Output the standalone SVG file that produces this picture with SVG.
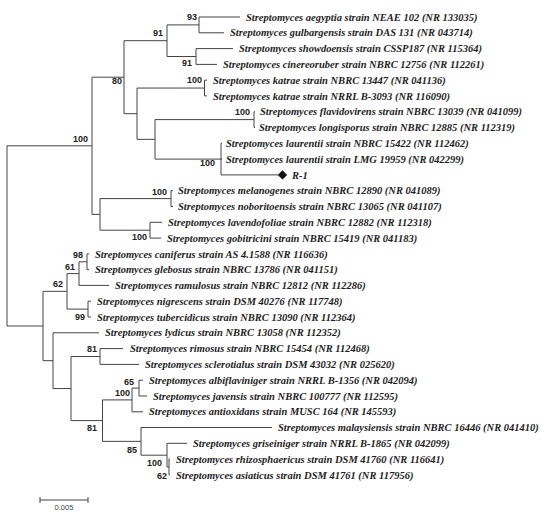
<svg xmlns="http://www.w3.org/2000/svg" width="550" height="514" viewBox="0 0 550 514">
<style>
.leaf{font-family:"Liberation Serif","Times New Roman",serif;font-weight:bold;font-style:italic;font-size:10.5px;fill:#1e1e1e}
.bs{font-family:"Liberation Sans",Arial,sans-serif;font-weight:bold;font-size:9px;fill:#222;text-anchor:end}
.br{fill:none;stroke:#444;stroke-width:1}
.sc{font-family:"Liberation Sans",Arial,sans-serif;font-size:7.5px;fill:#444;text-anchor:middle}
</style>
<rect width="550" height="514" fill="#fff"/>
<g id="connectors" class="br">
<path d="M7,145.8V326M7,145.8H92M7,326H43"/>
<path d="M92,77.2V214.4M92,77.2H124M92,214.4H100"/>
<path d="M124,40.7V113.7M124,40.7H167M124,113.7H137"/>
<path d="M167,24.9V56.5M167,24.9H199M167,56.5H196"/>
<path d="M199,17V32.8M199,17H240M199,32.8H224"/>
<path d="M196,48.6V64.4M196,48.6H233M196,64.4H217"/>
<path d="M137,88.05V139.35M137,88.05H204.5M137,139.35H155"/>
<path d="M204.5,80.2V95.9M204.5,80.2H207M204.5,95.9H207"/>
<path d="M155,119.6V159.1M155,119.6H254M155,159.1H221"/>
<path d="M254,111.7V127.5M254,111.7H255M254,127.5H255"/>
<path d="M221,143.3V174.9M221,143.3H222M221,159.1H222M221,174.9H278"/>
<path d="M100,198.6V230.2M100,198.6H171M100,230.2H150"/>
<path d="M171,190.7V206.5M171,190.7H173M171,206.5H173"/>
<path d="M150,222.3V238.1M150,222.3H162M150,238.1H161"/>
<path d="M43,291.35V360.7M43,291.35H67M43,360.7H53"/>
<path d="M67,273.6V309.1M67,273.6H79M67,309.1H88"/>
<path d="M79,261.8V285.4M79,261.8H87M79,285.4H109"/>
<path d="M87,253.9V269.6M87,253.9H89M87,269.6H89"/>
<path d="M88,301.2V317M88,301.2H91M88,317H91"/>
<path d="M53,332.8V388.55M53,332.8H99M53,388.55H71"/>
<path d="M71,356.5V420.6M71,356.5H100M71,420.6H102.5"/>
<path d="M100,348.6V364.4M100,348.6H123M100,364.4H139"/>
<path d="M102.5,399.9V441.35M102.5,399.9H132M102.5,441.35H141"/>
<path d="M132,388.1V411.8M132,388.1H139M132,411.8H143"/>
<path d="M139,380.2V396M139,380.2H143M139,396H147"/>
<path d="M141,427.5V455.2M141,427.5H272M141,455.2H167"/>
<path d="M167,443.3V467M167,443.3H187M167,467H169"/>
<path d="M169,459.1V474.9M169,459.1H170M169,474.9H170"/>
</g>
<g id="bootstrap">
<g id="n93"><text class="bs" x="197" y="20.3">93</text></g>
<g id="n91a"><text class="bs" x="163" y="36.3">91</text></g>
<g id="n91b"><text class="bs" x="192" y="66.3">91</text></g>
<g id="n80"><text class="bs" x="122" y="83.5">80</text></g>
<g id="nkatrae"><text class="bs" x="202" y="83.3">100</text></g>
<g id="nflav"><text class="bs" x="250" y="115.3">100</text></g>
<g id="nlaur"><text class="bs" x="215" y="166.3">100</text></g>
<g id="nroot100"><text class="bs" x="88" y="142.3">100</text></g>
<g id="nmel"><text class="bs" x="167" y="195.3">100</text></g>
<g id="nlav"><text class="bs" x="147" y="240.3">100</text></g>
<g id="n98"><text class="bs" x="83" y="258.3">98</text></g>
<g id="n61"><text class="bs" x="75" y="270.3">61</text></g>
<g id="n62a"><text class="bs" x="63" y="287.3">62</text></g>
<g id="n99"><text class="bs" x="85" y="320.3">99</text></g>
<g id="n81a"><text class="bs" x="97" y="352.3">81</text></g>
<g id="n81b"><text class="bs" x="97" y="431.3">81</text></g>
<g id="n65"><text class="bs" x="134" y="385.3">65</text></g>
<g id="n100c"><text class="bs" x="130" y="396.3">100</text></g>
<g id="n85"><text class="bs" x="137" y="452.8">85</text></g>
<g id="n100d"><text class="bs" x="162" y="466.3">100</text></g>
<g id="n62b"><text class="bs" x="167" y="479.3">62</text></g>
</g>
<g id="leaves">
<g id="t0"><text class="leaf" x="246" y="20.6">Streptomyces aegyptia strain NEAE 102 (NR 133035)</text></g>
<g id="t1"><text class="leaf" x="230" y="36.4">Streptomyces gulbargensis strain DAS 131 (NR 043714)</text></g>
<g id="t2"><text class="leaf" x="239" y="52.2">Streptomyces showdoensis strain CSSP187 (NR 115364)</text></g>
<g id="t3"><text class="leaf" x="223" y="68">Streptomyces cinereoruber strain NBRC 12756 (NR 112261)</text></g>
<g id="t4"><text class="leaf" x="213" y="83.8">Streptomyces katrae strain NBRC 13447 (NR 041136)</text></g>
<g id="t5"><text class="leaf" x="213" y="99.5">Streptomyces katrae strain NRRL B-3093 (NR 116090)</text></g>
<g id="t6"><text class="leaf" x="260" y="115.3">Streptomyces flavidovirens strain NBRC 13039 (NR 041099)</text></g>
<g id="t7"><text class="leaf" x="259" y="131.1">Streptomyces longisporus strain NBRC 12885 (NR 112319)</text></g>
<g id="t8"><text class="leaf" x="226" y="146.9">Streptomyces laurentii strain NBRC 15422 (NR 112462)</text></g>
<g id="t9"><text class="leaf" x="226" y="162.7">Streptomyces laurentii strain LMG 19959 (NR 042299)</text></g>
<g id="r1"><path d="M282.5,170.2L287.2,174.9L282.5,179.6L277.8,174.9Z" fill="#111"/><text class="leaf" x="292" y="178.5">R-1</text></g>
<g id="t11"><text class="leaf" x="178" y="194.3">Streptomyces melanogenes strain NBRC 12890 (NR 041089)</text></g>
<g id="t12"><text class="leaf" x="178" y="210.1">Streptomyces noboritoensis strain NBRC 13065 (NR 041107)</text></g>
<g id="t13"><text class="leaf" x="168" y="225.9">Streptomyces lavendofoliae strain NBRC 12882 (NR 112318)</text></g>
<g id="t14"><text class="leaf" x="167" y="241.7">Streptomyces gobitricini strain NBRC 15419 (NR 041183)</text></g>
<g id="t15"><text class="leaf" x="95" y="257.5">Streptomyces caniferus strain AS 4.1588 (NR 116636)</text></g>
<g id="t16"><text class="leaf" x="95" y="273.2">Streptomyces glebosus strain NBRC 13786 (NR 041151)</text></g>
<g id="t17"><text class="leaf" x="115" y="289">Streptomyces ramulosus strain NBRC 12812 (NR 112286)</text></g>
<g id="t18"><text class="leaf" x="97" y="304.8">Streptomyces nigrescens strain DSM 40276 (NR 117748)</text></g>
<g id="t19"><text class="leaf" x="97" y="320.6">Streptomyces tubercidicus strain NBRC 13090 (NR 112364)</text></g>
<g id="t20"><text class="leaf" x="105" y="336.4">Streptomyces lydicus strain NBRC 13058 (NR 112352)</text></g>
<g id="t21"><text class="leaf" x="130" y="352.2">Streptomyces rimosus strain NBRC 15454 (NR 112468)</text></g>
<g id="t22"><text class="leaf" x="145" y="368">Streptomyces sclerotialus strain DSM 43032 (NR 025620)</text></g>
<g id="t23"><text class="leaf" x="149" y="383.8">Streptomyces albiflaviniger strain NRRL B-1356 (NR 042094)</text></g>
<g id="t24"><text class="leaf" x="153" y="399.6">Streptomyces javensis strain NBRC 100777 (NR 112595)</text></g>
<g id="t25"><text class="leaf" x="149" y="415.4">Streptomyces antioxidans strain MUSC 164 (NR 145593)</text></g>
<g id="t26"><text class="leaf" x="278" y="431.1">Streptomyces malaysiensis strain NBRC 16446 (NR 041410)</text></g>
<g id="t27"><text class="leaf" x="193" y="446.9">Streptomyces griseiniger strain NRRL B-1865 (NR 042099)</text></g>
<g id="t28"><text class="leaf" x="176" y="462.7">Streptomyces rhizosphaericus strain DSM 41760 (NR 116641)</text></g>
<g id="t29"><text class="leaf" x="176" y="478.5">Streptomyces asiaticus strain DSM 41761 (NR 117956)</text></g>
</g>
<g id="scalebar">
<path class="br" d="M40,500H88M40,497V503M88,497V503"/>
<text class="sc" x="64" y="510">0.005</text>
</g>
</svg>
